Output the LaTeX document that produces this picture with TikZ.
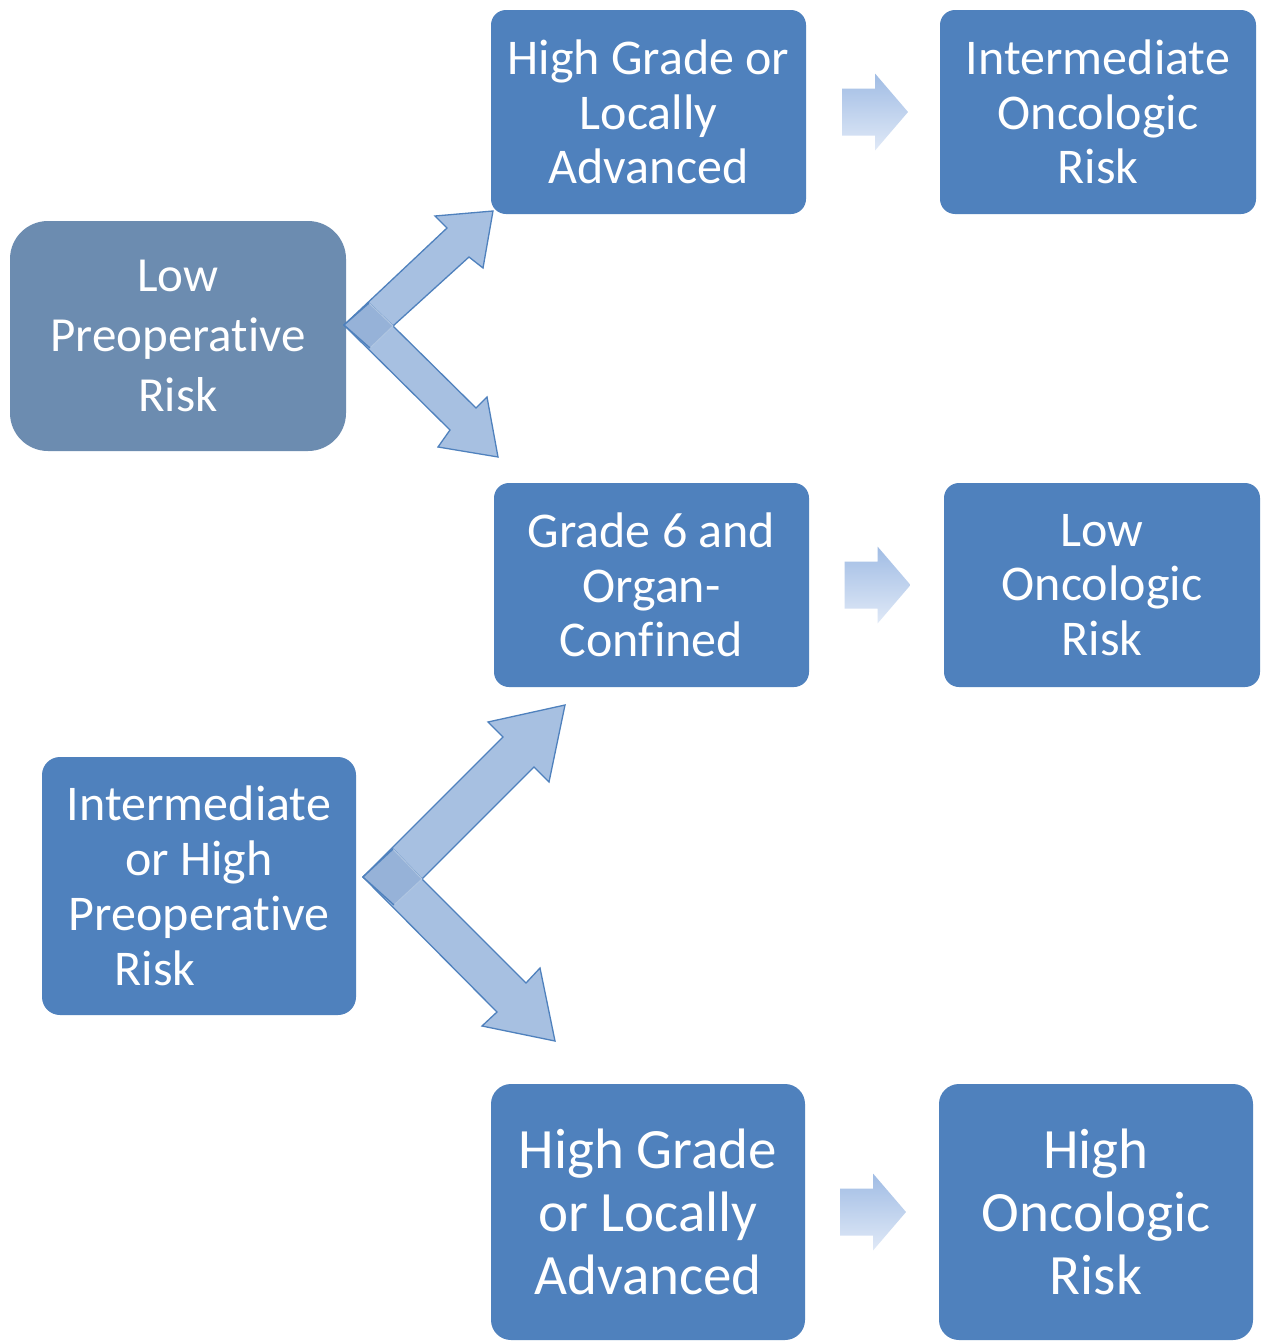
\documentclass[tikz,border=0pt]{standalone}
\usepackage{fontspec}
\setmainfont{Carlito}[Ligatures=NoCommon]
\usetikzlibrary{calc}
\definecolor{boxblue}{RGB}{79,129,189}
\definecolor{boxgray}{RGB}{108,140,176}
\definecolor{armfill}{RGB}{167,192,225}
\definecolor{armedge}{RGB}{79,129,189}
\definecolor{sqfill}{RGB}{150,178,216}
\definecolor{gradtop}{RGB}{160,188,228}
\definecolor{gradbot}{RGB}{224,233,247}
\newcommand{\nolig}{\kern0pt\relax}
\tikzset{
  riskbox/.style={rectangle, fill=boxblue, text=white, inner sep=0pt, align=center,
    minimum width=315pt, minimum height=204pt, rounded corners=15pt,
    font=\fontsize{50}{54.5}\selectfont},
  bigbox/.style={riskbox, minimum height=256pt, rounded corners=20pt,
    font=\fontsize{57}{63}\selectfont},
  armstyle/.style={fill=armfill, draw=armedge, line width=1.3pt, line join=miter},
  sqline/.style={draw=armedge!45, line width=1pt}
}
\begin{document}
\begin{tikzpicture}[x=1pt,y=-1pt]
\useasboundingbox (0,0) rectangle (1265,1341);
\fill[white] (0,0) rectangle (1265,1341);
% boxes
\node[riskbox, fill=boxgray, minimum width=336pt, minimum height=230pt, rounded corners=38pt,
  font=\fontsize{49}{60}\selectfont] (lpr) at (178,336) {Low\\Preoperat\nolig ive\\Risk};
\node[riskbox, minimum width=314pt, minimum height=258pt, rounded corners=18pt,
  font=\fontsize{50}{55}\selectfont] (ihpr) at (199,886) {Intermediate\\or High\\Preoperat\nolig ive\\\hspace*{-88pt}Risk};
\node[riskbox] (hg1) at (648.5,112) {High Grade or\\Locally\\Advanced};
\node[riskbox, minimum width=316pt] (ior) at (1098,112) {Intermediate\\Oncologic\\Risk};
\node[riskbox] (g6) at (651.5,585) {Grade 6 and\\Organ-\\Conf\nolig ined};
\node[riskbox, minimum width=316pt] (lor) at (1102,585) {Low\\Oncologic\\Risk};
\node[bigbox, minimum width=314pt] (hg2) at (648,1212) {High Grade\\or Locally\\Advanced};
\node[bigbox, minimum width=314pt] (hor) at (1096,1212) {High\\Oncologic\\Risk};
% small gradient arrows
\foreach \a/\b/\dx in {hg1/ior/2, g6/lor/1, hg2/hor/1}{
  \coordinate (m) at ($(\a.east)!0.5!(\b.west)+(\dx,0)$);
  \shade[top color=gradtop, bottom color=gradbot, shift={(m)}]
    (-33,-23.5) -- (0,-23.5) -- (0,-38.5) -- (33,0) -- (0,38.5) -- (0,23.5) -- (-33,23.5) -- cycle;
}
% top bent arrow
\draw[armstyle] (344,325) -- (447,228) -- (435,216) -- (493,211) -- (483,268) -- (469,257) -- (393,326) -- (370,348) -- cycle;
\draw[armstyle] (344,325) -- (369,303) -- (393,326) -- (476,408) -- (487,397) -- (498,457) -- (438,447) -- (450,430) -- cycle;
\fill[sqfill] (344,325) -- (369,303) -- (393,326) -- (370,348) -- cycle;
\draw[sqline] (369,303) -- (393,326) -- (370,348);
\draw[armedge, line width=1.3pt] (370,348) -- (344,325) -- (369,303);
% bottom bent arrow
\draw[armstyle] (363,877) -- (503,737) -- (488,722) -- (565,705) -- (549,782) -- (534,767) -- (422,879) -- (394,905) -- cycle;
\draw[armstyle] (363,877) -- (393,849) -- (422,879) -- (526,983) -- (540,968) -- (555,1041) -- (482,1026) -- (497,1012) -- cycle;
\fill[sqfill] (363,877) -- (393,849) -- (422,879) -- (394,905) -- cycle;
\draw[sqline] (393,849) -- (422,879) -- (394,905);
\draw[armedge, line width=1.3pt] (394,905) -- (363,877) -- (393,849);
\end{tikzpicture}
\end{document}
